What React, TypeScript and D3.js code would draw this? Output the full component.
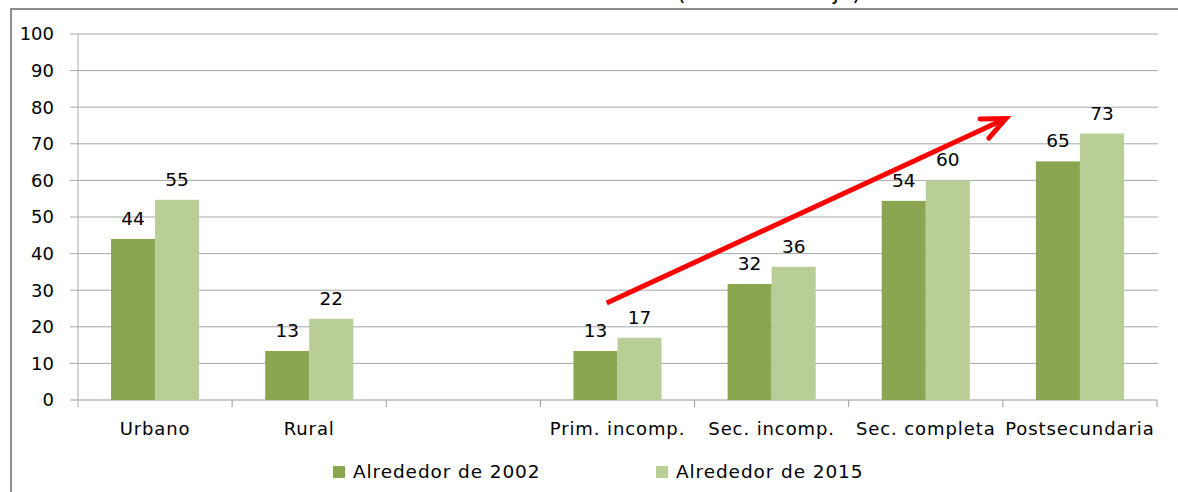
import * as d3 from 'd3'
import React from 'react'

const categories = ['Urbano', 'Rural', '', 'Prim. incomp.', 'Sec. incomp.', 'Sec. completa', 'Postsecundaria']
const seriesNames = ['Alrededor de 2002', 'Alrededor de 2015']
const values2002 = [44, 13.4, null, 13.4, 31.7, 54.4, 65.2]
const values2015 = [54.7, 22.2, null, 17, 36.4, 60, 72.8]
const yTicks = [0, 10, 20, 30, 40, 50, 60, 70, 80, 90, 100]
// arrow annotation: [category, offset within band, value]
const arrowFrom: [string, number, number] = ['Prim. incomp.', 0.43, 26.5]
const arrowTo: [string, number, number] = ['Postsecundaria', 0.02, 76.9]

const colors = ['#8BA651', '#B9CD96']
const font = '"DejaVu Sans", Verdana, sans-serif'

export default function App() {
  const
    W = 1178, H = 492,
    left = 78, right = 1157, top = 34, bottom = 400,
    keys = categories.map((c, i) => c || `__${i}`),
    x = d3.scaleBand<string>().domain(keys).range([left, right]),
    y = d3.scaleLinear().domain([0, 100]).range([bottom, top]),
    inner = d3.scaleBand<number>().domain([0, 1]).range([0, x.bandwidth()]).paddingOuter(0.75),
    series = [values2002, values2015]

  const pt = (a: [string, number, number]) => [x(a[0])! + a[1] * x.bandwidth(), y(a[2])]
  const [x0, y0] = pt(arrowFrom), [x1, y1] = pt(arrowTo)
  const ang = Math.atan2(y0 - y1, x0 - x1), hl = 26, ha = 0.42
  const head = d3.line()([
    [x1 + hl * Math.cos(ang + ha), y1 + hl * Math.sin(ang + ha)],
    [x1, y1],
    [x1 + hl * Math.cos(ang - ha), y1 + hl * Math.sin(ang - ha)],
  ])

  return (
    <svg width={W} height={H} style={{ position: 'absolute', left: 0, top: 0, background: '#fff' }} fontFamily={font}>
      <text x={677} y={0} fontSize={22} fill='#000'>(tasa de trabajo)</text>
      <path d={`M${W + 5},9 H11 V${H + 5}`} fill='none' stroke='#8c8c8c' strokeWidth={2} />
      {yTicks.map(t => (
        <g key={t}>
          <line x1={70} x2={t === 0 ? right : 1158} y1={y(t)} y2={y(t)} stroke={t === 0 ? '#999' : '#a6a6a6'} strokeWidth={1} />
          <text x={54} y={y(t)} dy='0.36em' textAnchor='end' fontSize={18} fill='#000'>{t}</text>
        </g>
      ))}
      <line x1={left} x2={left} y1={top} y2={bottom + 7} stroke='#aaa' />
      {keys.map(k => (
        <line key={k} x1={x(k)! + x.bandwidth()} x2={x(k)! + x.bandwidth()} y1={bottom} y2={bottom + 7} stroke='#999' />
      ))}
      {keys.map((k, i) => series.map((s, j) => {
        const v = s[i]
        if (v == null) return null
        const bx = x(k)! + inner(j)!
        return (
          <g key={k + j}>
            <rect x={bx} y={y(v)} width={inner.bandwidth()} height={bottom - y(v)} fill={colors[j]} />
            <text x={bx + inner.bandwidth() / 2} y={y(v) - 14} textAnchor='middle' fontSize={18.5} fill='#000'>{Math.round(v)}</text>
          </g>
        )
      }))}
      {keys.map((k, i) => (
        <text key={k} x={x(k)! + x.bandwidth() / 2} y={435} textAnchor='middle' fontSize={18} letterSpacing={0.9} fill='#000'>{categories[i]}</text>
      ))}
      {seriesNames.map((n, j) => (
        <g key={n} transform={`translate(${[333, 656][j]},466)`}>
          <rect width={12} height={12} fill={colors[j]} />
          <text x={20} y={12} fontSize={18.5} letterSpacing={0.9} fill='#000'>{n}</text>
        </g>
      ))}
      <line x1={x0} y1={y0} x2={x1 - 3 * Math.cos(ang + Math.PI)} y2={y1 - 3 * Math.sin(ang + Math.PI)} stroke='#FF0000' strokeWidth={5} />
      <path d={head!} fill='none' stroke='#FF0000' strokeWidth={5} strokeLinecap='round' strokeLinejoin='miter' />
    </svg>
  )
}
